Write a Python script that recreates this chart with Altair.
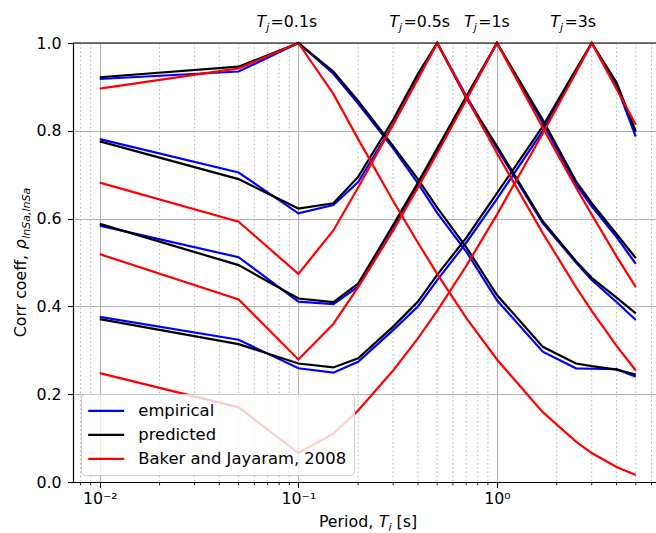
import altair as alt
import pandas as pd

# ---------------- data ----------------
PERIODS = [0.01, 0.05, 0.1, 0.15, 0.2, 0.3, 0.4, 0.5, 0.7, 1.0, 1.7, 2.5, 3.0, 4.0, 5.0]
TJ_VALUES = [0.1, 0.5, 1.0, 3.0]
TJ_TEXT = ["=0.1s", "=0.5s", "=1s", "=3s"]

EMP_01 = [0.918, 0.935, 1.0, 0.930, 0.862, 0.760, 0.680, 0.613, 0.525, 0.414, 0.297, 0.259, 0.258, 0.257, 0.240]
EMP_05 = [0.781, 0.705, 0.612, 0.631, 0.683, 0.815, 0.920, 1.0, 0.880, 0.760, 0.590, 0.500, 0.460, 0.410, 0.369]
EMP_1 = [0.584, 0.512, 0.411, 0.405, 0.445, 0.575, 0.675, 0.752, 0.872, 1.0, 0.818, 0.678, 0.628, 0.558, 0.497]
EMP_3 = [0.376, 0.324, 0.259, 0.249, 0.274, 0.346, 0.400, 0.460, 0.545, 0.645, 0.800, 0.935, 1.0, 0.903, 0.787]

PRED_01 = [0.922, 0.946, 1.0, 0.935, 0.868, 0.765, 0.690, 0.625, 0.535, 0.426, 0.308, 0.270, 0.264, 0.256, 0.245]
PRED_05 = [0.776, 0.690, 0.623, 0.635, 0.695, 0.825, 0.930, 1.0, 0.875, 0.765, 0.594, 0.503, 0.465, 0.420, 0.384]
PRED_1 = [0.588, 0.494, 0.418, 0.410, 0.452, 0.585, 0.682, 0.760, 0.878, 1.0, 0.825, 0.685, 0.635, 0.565, 0.510]
PRED_3 = [0.371, 0.314, 0.270, 0.261, 0.282, 0.354, 0.411, 0.472, 0.556, 0.658, 0.810, 0.940, 1.0, 0.910, 0.798]

BJ_01 = [0.896, 0.942, 1.0, 0.884, 0.781, 0.640, 0.545, 0.474, 0.374, 0.279, 0.159, 0.092, 0.066, 0.034, 0.016]
BJ_05 = [0.682, 0.593, 0.474, 0.573, 0.671, 0.814, 0.918, 1.0, 0.877, 0.749, 0.567, 0.444, 0.390, 0.310, 0.254]
BJ_1 = [0.519, 0.416, 0.279, 0.360, 0.444, 0.573, 0.671, 0.749, 0.870, 1.0, 0.807, 0.671, 0.609, 0.514, 0.444]
BJ_3 = [0.248, 0.170, 0.066, 0.110, 0.163, 0.254, 0.327, 0.390, 0.492, 0.609, 0.794, 0.933, 1.0, 0.895, 0.814]

SOURCES = ["empirical", "predicted", "Baker and Jayaram, 2008"]
COLORS = ["#0000ff", "#000000", "#ff0000"]
SERIES = {
    "empirical": [EMP_01, EMP_05, EMP_1, EMP_3],
    "predicted": [PRED_01, PRED_05, PRED_1, PRED_3],
    "Baker and Jayaram, 2008": [BJ_01, BJ_05, BJ_1, BJ_3],
}

MAJOR_X = [0.01, 0.1, 1.0]
MINOR_X = [0.008, 0.009, 0.02, 0.03, 0.04, 0.05, 0.06, 0.07, 0.08, 0.09,
           0.2, 0.3, 0.4, 0.5, 0.6, 0.7, 0.8, 0.9, 2.0, 3.0, 4.0, 5.0, 6.0]
Y_TICKS = [0.0, 0.2, 0.4, 0.6, 0.8, 1.0]

rows = []
for src in SOURCES:
    for tj, vals in zip(TJ_VALUES, SERIES[src]):
        for t, v in zip(PERIODS, vals):
            rows.append({"T": t, "rho": v, "source": src, "Tj": tj})
df = pd.DataFrame(rows)

# ---------------- layout / style ----------------
FONT = "DejaVu Sans"
FS = 15.8
W, H = 583, 439
GRID = "#b0b0b0"

xscale = alt.Scale(type="log", domain=[0.00733, 6.32], nice=False)
yscale = alt.Scale(domain=[0, 1], nice=False, zero=False)

xaxis = alt.Axis(
    values=MAJOR_X,
    labelExpr="datum.value < 0.05 ? '10\u207b\u00b2' : (datum.value < 0.5 ? '10\u207b\u00b9' : '10\u2070')",
    grid=True, gridColor=GRID, gridWidth=1.1,
    tickSize=5.5, tickWidth=1.1, tickColor="black",
    domainColor="black", domainWidth=1.2,
    labelFont=FONT, labelFontSize=FS, labelColor="black", labelPadding=4,
    labelFlush=False, title=None,
)
yaxis = alt.Axis(
    values=Y_TICKS, format=".1f",
    grid=True, gridColor=GRID, gridWidth=1.1,
    tickSize=5.5, tickWidth=1.1, tickColor="black",
    domainColor="black", domainWidth=1.2,
    labelFont=FONT, labelFontSize=FS, labelColor="black", labelPadding=6.5,
    title=None,
)

X = alt.X("T:Q", scale=xscale, axis=xaxis, title=None)
Y = alt.Y("rho:Q", scale=yscale, axis=yaxis, title=None)

legend = alt.Legend(
    orient="none", legendX=8, legendY=351, title=None,
    symbolType="M-1.2,0H3.3", symbolSize=256, symbolStrokeWidth=2.2,
    labelFont=FONT, labelFontSize=16.4, labelColor="black", labelOffset=31,
    labelLimit=400,
    padding=7.3, rowPadding=6,
    fillColor="rgba(255,255,255,0.8)", strokeColor="#cccccc", cornerRadius=4,
)
COLOR = alt.Color("source:N", scale=alt.Scale(domain=SOURCES, range=COLORS), legend=legend)

layers = []

# minor dotted grid and minor ticks
minor_df = pd.DataFrame({"T": MINOR_X})
layers.append(
    alt.Chart(minor_df).mark_rule(color=GRID, strokeWidth=0.9, strokeDash=[1.6, 2.6])
    .encode(x=X, y=alt.value(0), y2=alt.value(H))
)
layers.append(
    alt.Chart(minor_df).mark_rule(color="black", strokeWidth=0.9)
    .encode(x=X, y=alt.value(H), y2=alt.value(H + 3.2))
)

# data lines: empirical, predicted, Baker & Jayaram (drawn in that order)
for src in SOURCES:
    layers.append(
        alt.Chart(df).transform_filter(alt.datum.source == src)
        .mark_line(strokeWidth=2.2)
        .encode(x=X, y=Y, color=COLOR, detail="Tj:N", order="T:Q")
    )

# top spine
layers.append(
    alt.Chart(pd.DataFrame({"a": [0]})).mark_rule(color="black", strokeWidth=1.2)
    .encode(x=alt.value(0), x2=alt.value(W), y=alt.value(0))
)

# T_j annotations above the plot
LABEL_DX = [-42, -48, -33, -41.5]
for tj, rest, dx in zip(TJ_VALUES, TJ_TEXT, LABEL_DX):
    base = alt.Chart(pd.DataFrame({"Tj": [tj], "rest": [rest]}))
    XT = alt.X("Tj:Q", scale=xscale, axis=xaxis, title=None)
    layers.append(base.mark_text(text="T", font=FONT, fontSize=FS, fontStyle="italic",
                                 align="left", baseline="alphabetic", dx=dx, color="black")
                  .encode(x=XT, y=alt.value(-16)))
    layers.append(base.mark_text(text="j", font=FONT, fontSize=11, fontStyle="italic",
                                 align="left", baseline="alphabetic", dx=dx + 9.8, color="black")
                  .encode(x=XT, y=alt.value(-12.5)))
    layers.append(base.mark_text(font=FONT, fontSize=FS, align="left", baseline="alphabetic",
                                 dx=dx + 14.2, color="black")
                  .encode(x=XT, y=alt.value(-16), text="rest:N"))

# x axis title: "Period, T_i [s]"
one = alt.Chart(pd.DataFrame({"a": [0]}))
def txt(s, x, y, size=FS, style="normal", angle=0):
    return one.mark_text(text=s, font=FONT, fontSize=size, fontStyle=style, align="left",
                         baseline="alphabetic", angle=angle, color="black").encode(
        x=alt.value(x), y=alt.value(y))

layers += [
    txt("Period,", 245.9, 484),
    txt("T", 305.8, 484, style="italic"),
    txt("i", 315.5, 487.5, size=11, style="italic"),
    txt("[s]", 323.6, 484),
]
# y axis title: "Corr coeff, rho_{lnSa,lnSa}"
layers += [
    txt("Corr coeff,", -47.5, 294.3, angle=270),
    txt("\u03c1", -47.5, 206.3, style="italic", angle=270),
    txt("lnSa,lnSa", -43.5, 195.8, size=11, style="italic", angle=270),
]

chart = alt.layer(*layers).properties(
    width=W, height=H,
    padding={"left": 73, "top": 43, "right": 0, "bottom": 51},
    autosize=alt.AutoSizeParams(type="none"),
).configure_view(stroke=None)

chart.save("out.html", embed_options={"renderer": "svg", "actions": False})
